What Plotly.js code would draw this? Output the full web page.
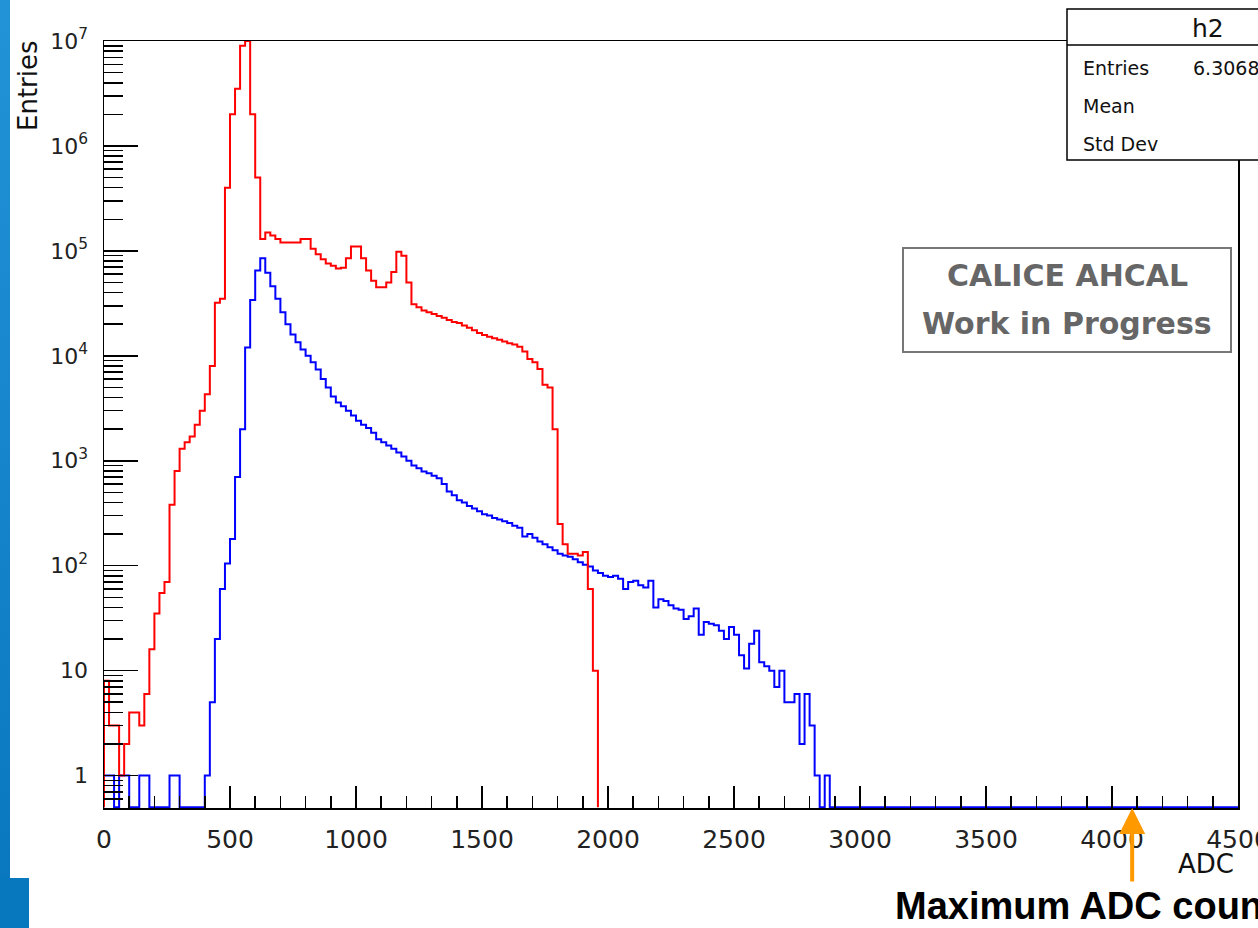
<!DOCTYPE html>
<html><head><meta charset="utf-8">
<script src="https://cdn.plot.ly/plotly-3.0.1.min.js"></script>
<style>
html,body{margin:0;padding:0;background:#fff;overflow:hidden}
#plot{width:1258px;height:928px;position:absolute;left:0;top:0}
.deco{position:absolute;pointer-events:none}
</style></head><body>
<div id="plot"></div>
<div class="deco" style="left:0;top:0;width:10px;height:878px;background:linear-gradient(180deg,#2393d8,#0a78bf)"></div>
<div class="deco" style="left:0;top:878px;width:29px;height:50px;background:#0878be"></div>
<script>
// ---- data (ADC histogram, 20-ADC bins starting at 0) ----
const binWidth = 20;
const nBinsTotal = 225; // 0..4500
const redCounts = [8,3,3,1,2,4,4,3,6,16,35,55,70,380,800,1300,1500,1700,2200,3000,
  4300,8000,32000,35000,400000,2000000,3500000,9000000,10000000,2000000,
  500000,130000,150000,140000,130000,120000,120000,120000,120000,130000,
  130000,105000,93000,83000,76000,72000,68000,69000,85000,110000,
  110000,85000,65000,52000,45000,45000,50000,63000,98000,90000,
  50000,31000,29000,27000,26000,25000,24000,23000,22000,21000,
  20500,19500,18500,17500,16500,15800,15200,14700,14200,13700,
  13200,12800,12200,11000,9300,8700,7500,5300,5000,2000,
  250,160,130,130,125,135,60,10];
const blueCounts = [1,1,0,1,1,0,0,1,1,0,0,0,0,1,1,0,0,0,0,0,
  1,5,20,60,105,180,700,2000,12000,34000,
  65000,85000,62000,46000,35000,26000,20000,16000,13500,11500,
  10000,8700,7400,6000,5000,4100,3600,3300,3000,2700,
  2400,2200,2050,1850,1600,1500,1400,1300,1200,1100,
  1000,900,850,790,760,720,680,600,510,470,
  420,400,370,350,330,310,300,285,275,265,
  255,240,230,190,200,185,170,160,150,140,
  130,125,122,115,108,102,98,90,85,80,
  78,80,75,60,70,72,65,62,72,40,
  48,46,42,39,38,31,33,39,22,29,
  28,27,24,20,26,22,14,10.5,18,24,
  12,11,10,7,10,5,5,6,2,6,
  3,1,0,1];
const xTickVals = [0,500,1000,1500,2000,2500,3000,3500,4000,4500];
const yTickVals = [1,10,100,1e3,1e4,1e5,1e6,1e7];
const yTickText = ['1','10','10<sup>2</sup>','10<sup>3</sup>','10<sup>4</sup>','10<sup>5</sup>','10<sup>6</sup>','10<sup>7</sup>'];
const statsLabels = ['Entries','Mean','Std Dev'];
const statsEntries = '6.306808e+07';
const maxADC = 4080;

// ---- build step histograms ----
const floorVal = 0.5;
function steps(counts, n){
  const xs=[0], ys=[floorVal];
  for(let i=0;i<n;i++){
    const v = i<counts.length ? counts[i] : 0;
    xs.push(i*binWidth); ys.push(v>0 ? v : floorVal);
  }
  xs.push(n*binWidth); ys.push(floorVal);
  return {xs, ys};
}
const blue = steps(blueCounts, nBinsTotal);
const red = steps(redCounts, redCounts.length);

// minor ticks for log axis
const yMinor = [];
for(let d=-1; d<7; d++){ for(let k=2;k<=9;k++){ const v=k*Math.pow(10,d); if(v>=0.5) yMinor.push(v);} }

const L=104, R=1238, T=41, B=808;
const px = p => (p-L)/(R-L);
const py = p => (B-p)/(B-T);
const FONT = 'DejaVu Sans';

const traces = [
  {x:blue.xs, y:blue.ys, type:'scatter', mode:'lines', line:{shape:'hv', color:'#0000ff', width:2}, hoverinfo:'skip'},
  {x:red.xs, y:red.ys, type:'scatter', mode:'lines', line:{shape:'hv', color:'#ff0000', width:2}, hoverinfo:'skip'}
];

const annotations = [
  {text:'Entries', xref:'paper', yref:'paper', x:px(28), y:py(86), textangle:-90, showarrow:false, xanchor:'center', yanchor:'middle', font:{family:FONT,size:26,color:'#111'}},
  {text:'ADC', xref:'paper', yref:'paper', x:px(1206), y:py(864), showarrow:false, xanchor:'center', yanchor:'middle', font:{family:FONT,size:26,color:'#111'}},
  {text:'<b>CALICE AHCAL</b>', xref:'paper', yref:'paper', x:px(1067), y:py(275), showarrow:false, xanchor:'center', yanchor:'middle', font:{family:FONT,size:30,color:'#666'}},
  {text:'<b>Work in Progress</b>', xref:'paper', yref:'paper', x:px(1067), y:py(323), showarrow:false, xanchor:'center', yanchor:'middle', font:{family:FONT,size:30,color:'#666'}},
  {text:'h2', xref:'paper', yref:'paper', x:px(1208), y:py(29), showarrow:false, xanchor:'center', yanchor:'middle', font:{family:FONT,size:25,color:'#111'}},
  {text:statsLabels[0], xref:'paper', yref:'paper', x:px(1081), y:py(68), showarrow:false, xanchor:'left', yanchor:'middle', font:{family:FONT,size:19,color:'#111'}},
  {text:statsEntries, xref:'paper', yref:'paper', x:px(1191), y:py(68), showarrow:false, xanchor:'left', yanchor:'middle', font:{family:FONT,size:19,color:'#111'}},
  {text:statsLabels[1], xref:'paper', yref:'paper', x:px(1081), y:py(106), showarrow:false, xanchor:'left', yanchor:'middle', font:{family:FONT,size:19,color:'#111'}},
  {text:statsLabels[2], xref:'paper', yref:'paper', x:px(1081), y:py(144), showarrow:false, xanchor:'left', yanchor:'middle', font:{family:FONT,size:19,color:'#111'}},
  {text:'<b>Maximum ADC counts</b>', xref:'paper', yref:'paper', x:px(893), y:py(906), showarrow:false, xanchor:'left', yanchor:'middle', font:{family:'Liberation Sans',size:38,color:'#000'}},
  {text:'', xref:'x', yref:'paper', x:maxADC, y:0, ax:0, ay:75, showarrow:true, arrowhead:2, arrowsize:1.3, arrowwidth:4, arrowcolor:'#ff9900', standoff:0}
];

const shapes = [
  {type:'rect', xref:'paper', yref:'paper', x0:px(1067), x1:px(1280), y0:py(160), y1:py(9), fillcolor:'#fff', line:{color:'#000',width:1.5}, layer:'above'},
  {type:'line', xref:'paper', yref:'paper', x0:px(1067), x1:px(1280), y0:py(45), y1:py(45), line:{color:'#000',width:1.5}, layer:'above'},
  {type:'rect', xref:'paper', yref:'paper', x0:px(903), x1:px(1231), y0:py(352), y1:py(248), line:{color:'#777',width:2}, layer:'above'}
];

const layout = {
  width:1258, height:928,
  margin:{l:L, r:1258-R, t:T, b:928-B, pad:0},
  paper_bgcolor:'#fff', plot_bgcolor:'#fff',
  showlegend:false,
  xaxis:{range:[0,4500], showgrid:false, zeroline:false, showline:true, linecolor:'#000', linewidth:1.5, mirror:true,
    tickmode:'array', tickvals:xTickVals, ticks:'inside', ticklen:22, tickwidth:1.5, tickcolor:'#000',
    minor:{dtick:100, ticks:'inside', ticklen:12, tickwidth:1.5, tickcolor:'#000', showgrid:false},
    tickfont:{family:FONT, size:25, color:'#222'}, ticklabelstandoff:8, ticklabeloverflow:'allow'},
  yaxis:{type:'log', range:[Math.log10(floorVal)-0.008, 7], showgrid:false, zeroline:false, showline:true, linecolor:'#000', linewidth:1.5, mirror:true,
    tickmode:'array', tickvals:yTickVals, ticktext:yTickText, ticks:'inside', ticklen:34, tickwidth:1.5, tickcolor:'#000',
    minor:{tickmode:'array', tickvals:yMinor, ticks:'inside', ticklen:19, tickwidth:1.5, tickcolor:'#000', showgrid:false},
    tickfont:{family:FONT, size:22, color:'#222'}, ticklabelstandoff:10, ticklabeloverflow:'allow'},
  annotations, shapes
};
Plotly.newPlot('plot', traces, layout, {staticPlot:true, displayModeBar:false});
</script>
</body></html>
